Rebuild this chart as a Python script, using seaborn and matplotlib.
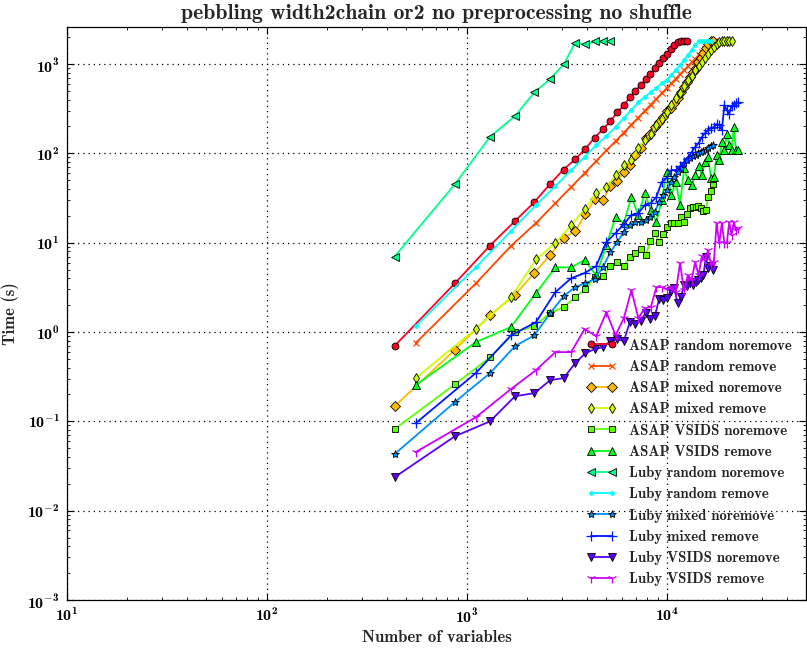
import numpy as np
import pandas as pd
import matplotlib
matplotlib.use("Agg")
import matplotlib.pyplot as plt
import seaborn as sns
from matplotlib.ticker import FixedLocator, LogLocator, FuncFormatter, NullFormatter

# ---------------- data ----------------
labels = ["ASAP random noremove", "ASAP random remove", "ASAP mixed noremove",
          "ASAP mixed remove", "ASAP VSIDS noremove", "ASAP VSIDS remove",
          "Luby random noremove", "Luby random remove", "Luby mixed noremove",
          "Luby mixed remove", "Luby VSIDS noremove", "Luby VSIDS remove"]

step_noremove = 436   # variables per instance step (noremove runs)
step_remove = 555     # variables per instance step (remove runs)

asap_random_noremove = [0.7, 3.5, 9.3, 17.5, 28.5, 45.7, 66, 86, 113, 150, 186, 230, 290, 347,
                        424, 502, 582, 674, 778, 895, 1035, 1178, 1295, 1473, 1650, 1760,
                        1800, 1800, 1800]
asap_random_remove = [0.75, 3.5, 9.2, 16.6, 27.7, 42, 60, 82, 108, 137, 171, 210, 252, 300,
                      352, 409, 470, 537, 608, 686, 767, 855, 946, 1045, 1146, 1257, 1373,
                      1492, 1622, 1753, 1800]
asap_mixed_noremove = [0.148, 0.63, 1.55, 2.6, 4.6, 7.3, 11.3, 13.5, 20.9, 30.7, 30, 43, 49,
                       62, 74, 96, 115, 148, 164, 197, 224, 255, 298, 322, 366, 416, 486, 553,
                       629, 715, 813, 902, 1052, 1166, 1328, 1511, 1675, 1800, 1800]
asap_mixed_remove = [0.305, 1.08, 2.46, 6.5, 9.9, 15.7, 23.8, 35.9, 42, 57, 74, 84, 115, 141,
                     164, 207, 242, 290, 347, 416, 473, 567, 662, 734, 857, 950, 1052, 1166,
                     1294, 1436, 1550, 1675, 1764, 1800, 1800, 1800, 1800, 1800]
asap_vsids_noremove = [0.082, 0.26, 0.52, 0.99, 1.17, 1.63, 1.90, 2.46, 3.02, 4.12, 4.23, 5.47,
                       6.07, 5.47, 6.9, 7.66, 8.48, 7.27, 10.4, 12.8, 10.2, 12.5, 15.0, 16.6,
                       16.6, 16.6, 19.4, 17.0, 20.9, 24.4, 25.0, 25.0, 25.7, 24.4, 22.6, 23.5,
                       32.4, 37.8, 45]
asap_vsids_remove = [0.254, 0.77, 1.14, 2.73, 5.3, 5.3, 6.4, 4.3, 9.4, 19.4, 16.6, 32.4, 20.4,
                     35.9, 23.2, 17.0, 30, 62, 34.1, 47.7, 26.4, 68, 50, 44, 57, 72, 57, 80, 91,
                     53, 54, 96, 84, 134, 109, 164, 124, 109, 197, 109, 109]
luby_random_noremove = [7, 45, 153, 262, 482, 683, 993, 1733, 1661, 1800, 1800, 1800]
luby_random_remove = [1.16, 5.3, 13.5, 26.4, 43, 65, 91, 124, 156, 197, 249, 305, 375, 427,
                      486, 538, 613, 662, 754, 857, 975, 1109, 1262, 1436, 1634, 1800, 1800,
                      1800, 1800, 1800]
luby_mixed_noremove = [0.043, 0.164, 0.347, 0.695, 0.92, 1.63, 2.52, 3.18, 3.53, 3.91, 5.3,
                       7.85, 10.2, 13.2, 15.7, 17.0, 17.0, 17.9, 19.4, 22.0, 28.5, 34.1, 38.8,
                       47.7, 54, 62, 68, 78, 84, 89, 93, 96, 101, 103, 106, 109, 115, 121, 124]
luby_mixed_remove = [0.095, 0.347, 0.92, 1.29, 2.8, 4.0, 4.57, 5.47, 10.2, 12.8, 16.1, 20.4,
                     21.4, 26.4, 27.8, 32.4, 47.7, 53, 65, 65, 72, 80, 89, 103, 118, 130, 152,
                     169, 182, 192, 197, 213, 207, 182, 347, 305, 276, 339, 347, 366, 375]
luby_vsids_noremove = [0.0237, 0.068, 0.100, 0.191, 0.207, 0.289, 0.305, 0.449, 0.581, 0.643,
                       0.677, 0.791, 0.832, 0.791, 1.29, 1.23, 1.33, 1.63, 1.39, 1.50, 2.33,
                       2.27, 2.40, 2.87, 3.10, 2.11, 2.46, 3.35, 3.27, 3.53, 3.35, 3.62, 3.81,
                       4.02, 4.34, 6.9, 5.2, 5.47, 4.93]
luby_vsids_remove = [0.0452, 0.111, 0.230, 0.374, 0.596, 0.596, 1.08, 0.90, 1.67, 0.92, 1.43,
                     2.94, 1.43, 1.85, 1.90, 3.18, 3.18, 3.02, 3.18, 2.80, 5.9, 2.94, 4.34,
                     3.81, 6.07, 4.34, 7.08, 6.39, 8.26, 5.61, 6.07, 16.6, 9.9, 16.6, 9.9, 9.9,
                     17.0, 12.2, 17.0, 13.8, 14.6]

series = [asap_random_noremove, asap_random_remove, asap_mixed_noremove, asap_mixed_remove,
          asap_vsids_noremove, asap_vsids_remove, luby_random_noremove, luby_random_remove,
          luby_mixed_noremove, luby_mixed_remove, luby_vsids_noremove, luby_vsids_remove]

xtick_vals = [1e1, 1e2, 1e3, 1e4]
ytick_vals = [1e-3, 1e-2, 1e-1, 1e0, 1e1, 1e2, 1e3]

# ---------------- style ----------------
sns.set_style("ticks")
plt.rcParams.update({
    "font.family": ["cmb10", "DejaVu Serif"],
    "mathtext.fontset": "custom",
    "mathtext.rm": "cmb10",
    "mathtext.bf": "cmb10",
    "mathtext.it": "cmb10",
    "axes.unicode_minus": False,
    "xtick.direction": "in", "ytick.direction": "in",
    "xtick.top": True, "ytick.right": True,
    "xtick.major.size": 5, "ytick.major.size": 5,
    "xtick.minor.size": 2.5, "ytick.minor.size": 2.5,
    "xtick.major.width": 0.8, "ytick.major.width": 0.8,
    "xtick.minor.width": 0.6, "ytick.minor.width": 0.6,
    "axes.linewidth": 0.9,
    "axes.edgecolor": "black",
    "xtick.color": "black", "ytick.color": "black",
})

markers = ["o", "x", "D", "d", "s", "^", "<", ".", "*", "+", "v", "1"]
msizes = [5, 5, 5, 5.5, 5, 5.5, 5.5, 5, 6, 7, 5.5, 7]
cmap = plt.get_cmap("gist_rainbow")
colors = [cmap(i / 12) for i in range(12)]
line_markers = {"x", "+", "1", "."}

fig = plt.figure(figsize=(8.07, 6.48), dpi=100)
ax = fig.add_axes([66.7 / 807, 48 / 648, (806.5 - 66.7) / 807, (600 - 27) / 648])

for i, (lab, vals) in enumerate(zip(labels, series)):
    step = step_remove if lab.endswith(" remove") else step_noremove
    xs = step * np.arange(1, len(vals) + 1)
    df = pd.DataFrame({"x": xs, "y": vals})
    mec = colors[i] if markers[i] in line_markers else "k"
    sns.lineplot(data=df, x="x", y="y", ax=ax, color=colors[i], marker=markers[i],
                 markersize=msizes[i], markeredgecolor=mec,
                 markeredgewidth=0.9 if markers[i] in line_markers else 0.6,
                 linewidth=1.3, label=lab, estimator=None, sort=False, legend=False)

ax.set_xscale("log")
ax.set_yscale("log")
ax.set_xlim(10, 5e4)
ax.set_ylim(1e-3, 2600)

fmt = FuncFormatter(lambda v, p: r"$\mathbf{10^{%d}}$" % int(round(np.log10(v))))
ax.xaxis.set_major_locator(FixedLocator(xtick_vals))
ax.yaxis.set_major_locator(FixedLocator(ytick_vals))
ax.xaxis.set_minor_locator(LogLocator(base=10, subs=np.arange(2, 10), numticks=50))
ax.yaxis.set_minor_locator(LogLocator(base=10, subs=np.arange(2, 10), numticks=50))
ax.xaxis.set_major_formatter(fmt)
ax.yaxis.set_major_formatter(fmt)
ax.xaxis.set_minor_formatter(NullFormatter())
ax.yaxis.set_minor_formatter(NullFormatter())
ax.tick_params(axis="both", which="major", labelsize=11.5, pad=5)

ax.grid(True, which="major", color="black", linestyle=(0, (1, 3.2)), linewidth=0.9)

ax.set_title("pebbling width2chain or2 no preprocessing no shuffle", fontsize=15.7, pad=6)
ax.set_xlabel("Number of variables", fontsize=12, labelpad=3)
ax.set_ylabel("Time (s)", fontsize=12, labelpad=6)

handles, labs = ax.get_legend_handles_labels()
ax.legend(handles, labs, loc="lower left", bbox_to_anchor=(0.6952, 0.0137), frameon=False,
          fontsize=10.63, handlelength=2.0, numpoints=2, labelspacing=0.49, borderaxespad=0.0,
          borderpad=0.4, handletextpad=0.85)

for sp in ax.spines.values():
    sp.set_visible(True)
    sp.set_color("black")

fig.savefig("out.png", dpi=100)
